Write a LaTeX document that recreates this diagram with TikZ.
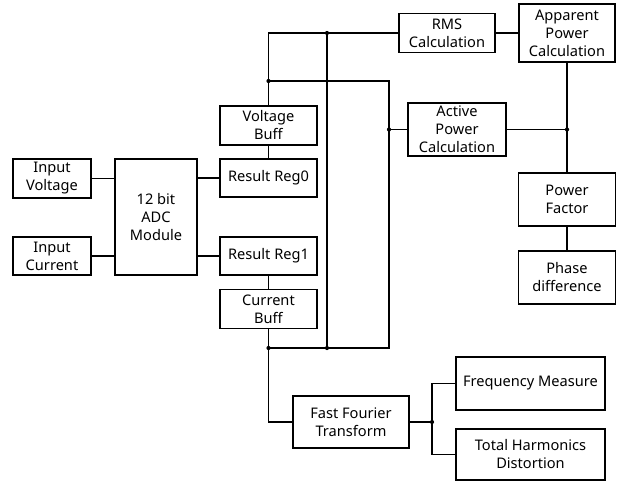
\documentclass[tikz,border=0pt]{standalone}
\usepackage{fontspec}
\setmainfont{Noto Sans}
\begin{document}
\begin{tikzpicture}[x=1pt,y=-1pt,
  blk/.style={draw,line width=1.7pt,fill=white,align=center,inner sep=0pt,
    font=\fontsize{14.6}{18}\selectfont},
  wire/.style={line width=1.7pt},
  dot/.style={circle,fill=black,inner sep=0pt,minimum size=4.2pt}]
\useasboundingbox (0,0) rectangle (621,482);
% blocks
\node[blk,minimum width=78pt,minimum height=39pt] (iv) at (52,178.5) {Input\\Voltage};
\node[blk,minimum width=78pt,minimum height=38pt] (ic) at (52,256) {Input\\Current};
\node[blk,minimum width=82pt,minimum height=116pt] (adc) at (156,217) {12 bit\\ADC\\Module};
\node[blk,minimum width=97pt,minimum height=38pt] (r0) at (268.5,178) {Result Reg0};
\node[blk,minimum width=97pt,minimum height=38pt] (r1) at (268.5,256) {Result Reg1};
\node[blk,minimum width=97pt,minimum height=39pt] (vb) at (268.5,125.5) {Voltage\\Buff};
\node[blk,minimum width=97pt,minimum height=39pt] (cb) at (268.5,309) {Current\\Buff};
\node[blk,minimum width=96pt,minimum height=39pt] (rms) at (447,33) {RMS\\Calculation};
\node[blk,minimum width=96pt,minimum height=58pt] (app) at (567,33) {Apparent\\Power\\Calculation};
\node[blk,minimum width=98pt,minimum height=53pt] (act) at (457,129.5) {Active\\Power\\Calculation};
\node[blk,minimum width=97pt,minimum height=53pt] (pf) at (567,199.5) {Power\\Factor};
\node[blk,minimum width=97pt,minimum height=53pt] (ph) at (567,277.5) {Phase\\difference};
\node[blk,minimum width=116pt,minimum height=52pt] (fft) at (351,422) {Fast Fourier\\Transform};
\node[blk,minimum width=149pt,minimum height=53pt] (fm) at (530.5,383.5) {Frequency Measure};
\node[blk,minimum width=149pt,minimum height=51pt] (thd) at (530.5,454.5) {Total Harmonics\\Distortion};
% junction coordinates
\coordinate (tl) at (268.5,33);
\coordinate (j1) at (268.5,81);
\coordinate (j2) at (327,33);
\coordinate (j3) at (268.5,348);
\coordinate (j4) at (327,348);
\coordinate (c1) at (389,81);
\coordinate (j5) at (389,129.5);
\coordinate (c2) at (389,348);
\coordinate (c3) at (268.5,422);
\coordinate (j6) at (432,422);
\coordinate (j7) at (567,129.5);
% wires
\draw[wire] (iv.east) -- (iv.east -| adc.west);
\draw[wire] (ic.east) -- (ic.east -| adc.west);
\draw[wire] (r0.west -| adc.east) -- (r0.west);
\draw[wire] (r1.west -| adc.east) -- (r1.west);
\draw[wire] (r0.north) -- (vb.south);
\draw[wire] (r1.south) -- (cb.north);
\draw[wire] (vb.north) -- (tl) -- (rms.west);
\draw[wire] (j1) -- (c1) -- (c2) -- (j3);
\draw[wire] (j2) -- (j4);
\draw[wire] (j5) -- (act.west);
\draw[wire] (cb.south) -- (c3) -- (fft.west);
\draw[wire] (fft.east) -- (j6);
\draw[wire] (fm.west) -| (j6) |- (thd.west);
\draw[wire] (rms.east) -- (app.west);
\draw[wire] (app.south) -- (pf.north);
\draw[wire] (act.east) -- (j7);
\draw[wire] (pf.south) -- (ph.north);
% dots
\foreach \p in {j1,j2,j3,j4,j5,j6,j7} \node[dot] at (\p) {};
\end{tikzpicture}
\end{document}
